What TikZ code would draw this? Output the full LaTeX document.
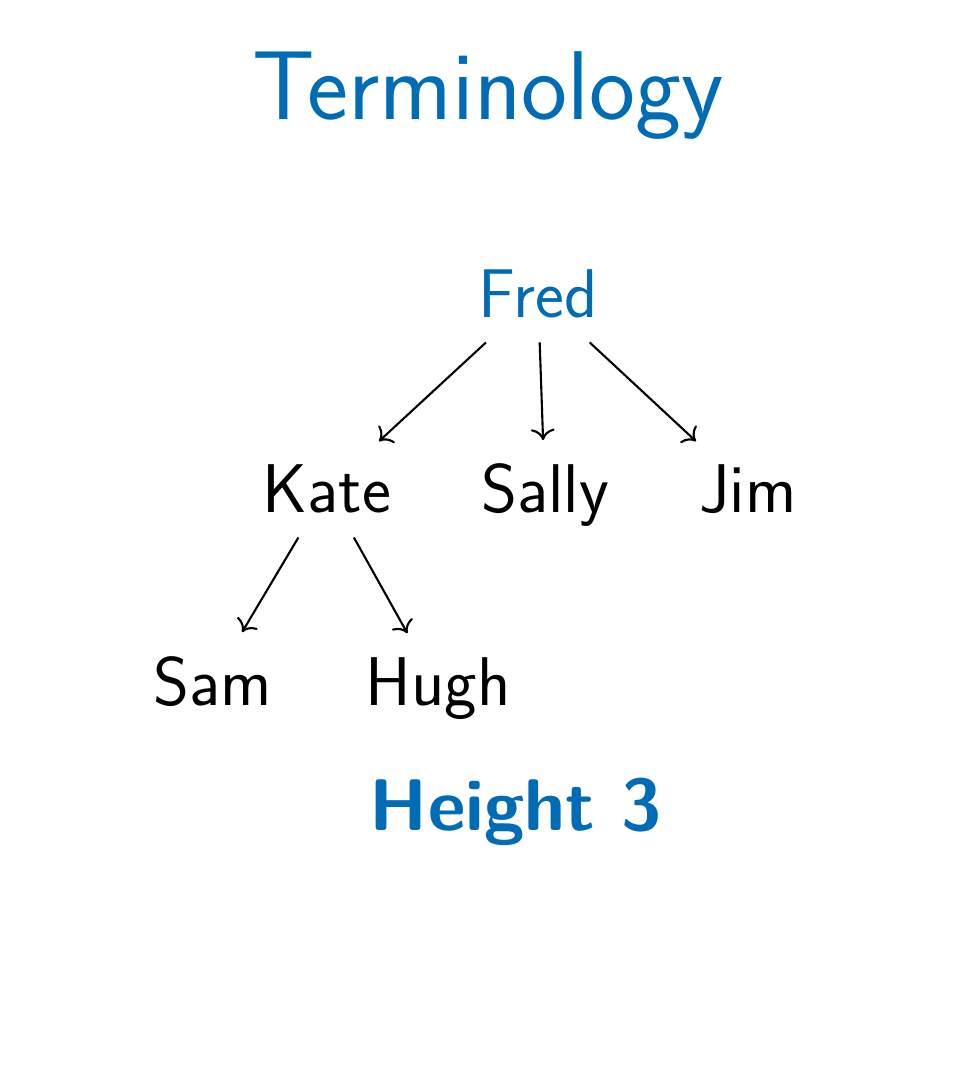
\documentclass[tikz,border=0pt]{standalone}
\usepackage{fontspec}
\usepackage{tikz}
\definecolor{slideBlue}{RGB}{0, 108, 182}
\usetikzlibrary{arrows.meta, positioning}

\begin{document}
\begin{tikzpicture}[
    x=0.01cm, y=-0.01cm,
    person/.style={anchor=base, inner sep=6.6pt, font=\sffamily\fontsize{19.6}{23}\selectfont},
    heading/.style={anchor=base, inner sep=0pt, text=slideBlue, font=\sffamily\fontsize{27.8}{34}\selectfont},
    link/.style={-{To[scale=1.1]}, line width=0.6pt}
]
    \useasboundingbox (0,0) rectangle (972,1092);

    \node[heading] (title) at (488,120) {Terminology};

    % the tree
    \node[person, text=slideBlue] (fred) at (538,318) {Fred};
    \node[person] (kate) at (327,513) {Kate};
    \node[person] (sally) at (545,513) {Sally};
    \node[person] (jim) at (748,513) {Jim};
    \node[person] (sam) at (213,705) {Sam};
    \node[person] (hugh) at (438,705) {Hugh};

    \draw[link] (fred) -- (kate);
    \draw[link] (fred) -- (sally);
    \draw[link] (fred) -- (jim);
    \draw[link] (kate) -- (sam);
    \draw[link] (kate) -- (hugh);

    \node[anchor=base, text=slideBlue, font=\sffamily\bfseries\fontsize{20.8}{25}\selectfont] (height) at (516,830) {Height 3};
\end{tikzpicture}
\end{document}
